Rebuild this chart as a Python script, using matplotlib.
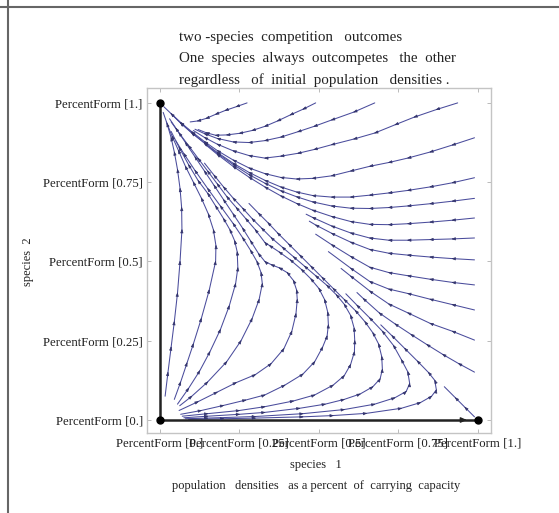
import numpy as np
import matplotlib
matplotlib.use("Agg")
import matplotlib.pyplot as plt
from matplotlib.lines import Line2D

plt.rcParams['font.family'] = ['Liberation Serif', 'DejaVu Serif']

# trajectories (species 1, species 2), ordered along the direction of motion
top_1 = [(0.274, 1.0), (0.24, 0.988), (0.205, 0.976), (0.175, 0.964), (0.145, 0.951),
         (0.118, 0.943), (0.095, 0.94)]
top_2 = [(0.49, 1.0), (0.45, 0.98), (0.41, 0.962), (0.37, 0.943), (0.33, 0.926),
         (0.29, 0.913), (0.25, 0.904), (0.21, 0.899), (0.175, 0.898), (0.145, 0.906),
         (0.12, 0.916)]
top_3 = [(0.676, 1.0), (0.61, 0.971), (0.54, 0.946), (0.485, 0.926), (0.434, 0.909),
         (0.38, 0.892), (0.33, 0.881), (0.28, 0.875), (0.23, 0.877), (0.18, 0.888),
         (0.14, 0.903), (0.11, 0.917)]
top_4 = [(0.937, 1.0), (0.87, 0.979), (0.8, 0.955), (0.74, 0.931), (0.676, 0.905),
         (0.61, 0.886), (0.54, 0.868), (0.485, 0.853), (0.434, 0.841), (0.38, 0.832),
         (0.33, 0.826), (0.28, 0.834), (0.23, 0.849), (0.18, 0.87), (0.14, 0.891),
         (0.105, 0.913)]

right_1 = [(0.99, 0.89), (0.92, 0.867), (0.85, 0.845), (0.78, 0.826), (0.72, 0.812),
           (0.66, 0.8), (0.6, 0.785), (0.54, 0.77), (0.48, 0.762), (0.43, 0.76),
           (0.38, 0.765), (0.33, 0.777), (0.28, 0.795), (0.23, 0.82), (0.18, 0.85),
           (0.14, 0.878), (0.1, 0.909), (0.065, 0.938), (0.035, 0.966)]
right_2 = [(0.99, 0.764), (0.92, 0.748), (0.85, 0.735), (0.78, 0.724), (0.72, 0.716),
           (0.66, 0.709), (0.6, 0.703), (0.54, 0.703), (0.48, 0.708), (0.43, 0.719),
           (0.38, 0.735), (0.33, 0.756), (0.28, 0.781), (0.23, 0.81), (0.18, 0.844),
           (0.14, 0.874), (0.1, 0.906), (0.065, 0.937), (0.035, 0.966)]
right_3 = [(0.99, 0.699), (0.92, 0.69), (0.85, 0.682), (0.78, 0.675), (0.72, 0.67),
           (0.66, 0.667), (0.6, 0.668), (0.54, 0.675), (0.48, 0.688), (0.43, 0.704),
           (0.38, 0.723), (0.33, 0.747), (0.28, 0.774), (0.23, 0.806), (0.18, 0.841),
           (0.14, 0.873), (0.1, 0.905), (0.065, 0.936), (0.035, 0.966), (0.012, 0.988)]
right_4 = [(0.99, 0.637), (0.92, 0.63), (0.85, 0.624), (0.78, 0.619), (0.72, 0.616),
           (0.66, 0.617), (0.6, 0.626), (0.54, 0.642), (0.48, 0.662), (0.43, 0.683),
           (0.38, 0.707), (0.33, 0.735), (0.28, 0.766), (0.23, 0.8), (0.18, 0.838),
           (0.14, 0.871)]
right_5 = [(0.99, 0.574), (0.92, 0.571), (0.85, 0.569), (0.78, 0.567), (0.72, 0.567),
           (0.66, 0.574), (0.6, 0.59), (0.54, 0.612), (0.48, 0.639), (0.46, 0.649)]
right_6 = [(0.99, 0.505), (0.92, 0.509), (0.85, 0.514), (0.78, 0.52), (0.72, 0.526),
           (0.66, 0.538), (0.6, 0.561), (0.54, 0.589), (0.49, 0.615), (0.47, 0.627)]
right_7 = [(0.99, 0.426), (0.92, 0.434), (0.85, 0.444), (0.78, 0.455), (0.72, 0.465),
           (0.66, 0.482), (0.6, 0.516), (0.54, 0.553), (0.49, 0.586)]
right_8 = [(0.99, 0.347), (0.92, 0.364), (0.85, 0.381), (0.78, 0.399), (0.72, 0.413),
           (0.66, 0.437), (0.6, 0.479), (0.53, 0.531)]
right_9 = [(0.99, 0.252), (0.92, 0.28), (0.85, 0.305), (0.78, 0.338), (0.72, 0.366),
           (0.66, 0.407), (0.6, 0.454), (0.57, 0.478)]
right_10 = [(0.99, 0.151), (0.94, 0.178), (0.89, 0.207), (0.84, 0.238), (0.79, 0.27),
            (0.74, 0.303), (0.69, 0.338), (0.64, 0.383), (0.62, 0.402)]

low_a = [(0.06, 0.03), (0.12, 0.058), (0.18, 0.088), (0.24, 0.118), (0.3, 0.143),
         (0.35, 0.178), (0.39, 0.225), (0.415, 0.28), (0.428, 0.335), (0.432, 0.38),
         (0.43, 0.41), (0.42, 0.44), (0.4, 0.465), (0.375, 0.48), (0.35, 0.49),
         (0.33, 0.5), (0.31, 0.525), (0.285, 0.565), (0.26, 0.605), (0.23, 0.65),
         (0.2, 0.695), (0.17, 0.74), (0.14, 0.785), (0.11, 0.83), (0.08, 0.875),
         (0.05, 0.92), (0.03, 0.95)]
low_b = [(0.065, 0.018), (0.13, 0.03), (0.2, 0.046), (0.27, 0.063), (0.33, 0.079),
         (0.393, 0.11), (0.45, 0.145), (0.487, 0.184), (0.512, 0.23), (0.526, 0.265),
         (0.53, 0.3), (0.528, 0.34), (0.518, 0.38), (0.5, 0.415), (0.475, 0.445),
         (0.445, 0.475), (0.41, 0.505), (0.375, 0.53), (0.345, 0.55), (0.33, 0.56),
         (0.3, 0.6), (0.27, 0.635), (0.24, 0.67), (0.21, 0.705), (0.18, 0.745),
         (0.15, 0.785), (0.12, 0.825), (0.09, 0.865), (0.06, 0.905), (0.035, 0.94)]
low_c = [(0.07, 0.012), (0.15, 0.02), (0.25, 0.03), (0.33, 0.042), (0.42, 0.06),
         (0.487, 0.079), (0.545, 0.11), (0.58, 0.14), (0.6, 0.175), (0.612, 0.215),
         (0.613, 0.25), (0.611, 0.29), (0.6, 0.33), (0.58, 0.365), (0.555, 0.395),
         (0.525, 0.425), (0.49, 0.455), (0.455, 0.485), (0.42, 0.515), (0.385, 0.545),
         (0.35, 0.575), (0.32, 0.605), (0.29, 0.635), (0.26, 0.668), (0.23, 0.7),
         (0.2, 0.735), (0.17, 0.772), (0.14, 0.81)]
low_d = [(0.075, 0.007), (0.15, 0.012), (0.25, 0.018), (0.33, 0.024), (0.44, 0.037),
         (0.52, 0.05), (0.58, 0.065), (0.63, 0.082), (0.67, 0.105), (0.693, 0.13),
         (0.7, 0.16), (0.698, 0.2), (0.688, 0.24), (0.67, 0.275), (0.645, 0.31),
         (0.615, 0.345), (0.58, 0.38), (0.545, 0.415), (0.51, 0.45), (0.475, 0.485),
         (0.44, 0.52), (0.405, 0.555), (0.37, 0.59), (0.34, 0.622), (0.31, 0.652),
         (0.28, 0.683)]
low_e = [(0.08, 0.004), (0.15, 0.006), (0.3, 0.011), (0.45, 0.02), (0.58, 0.033),
         (0.676, 0.05), (0.739, 0.07), (0.775, 0.09), (0.786, 0.115), (0.78, 0.152),
         (0.76, 0.19), (0.735, 0.235), (0.7, 0.28), (0.66, 0.322), (0.62, 0.362),
         (0.585, 0.398)]
low_f = [(0.09, 0.002), (0.2, 0.004), (0.3, 0.006), (0.45, 0.01), (0.545, 0.014),
         (0.65, 0.021), (0.76, 0.037), (0.82, 0.055), (0.855, 0.075), (0.87, 0.095),
         (0.865, 0.125), (0.845, 0.15), (0.81, 0.186), (0.77, 0.226), (0.73, 0.266),
         (0.695, 0.3)]

left_1 = [(0.016, 0.075), (0.025, 0.15), (0.035, 0.23), (0.045, 0.31), (0.055, 0.4),
          (0.063, 0.5), (0.069, 0.6), (0.068, 0.67), (0.063, 0.73), (0.055, 0.79),
          (0.045, 0.845), (0.035, 0.89), (0.022, 0.935), (0.01, 0.97)]
left_2 = [(0.045, 0.065), (0.065, 0.12), (0.085, 0.18), (0.105, 0.24), (0.13, 0.32),
          (0.155, 0.41), (0.175, 0.5), (0.176, 0.55), (0.168, 0.6), (0.152, 0.65),
          (0.13, 0.7), (0.105, 0.75), (0.08, 0.8), (0.058, 0.85), (0.038, 0.895),
          (0.02, 0.94)]
left_3 = [(0.055, 0.05), (0.09, 0.1), (0.125, 0.155), (0.157, 0.215), (0.19, 0.285),
          (0.218, 0.36), (0.238, 0.43), (0.245, 0.48), (0.243, 0.53), (0.235, 0.565),
          (0.22, 0.6), (0.2, 0.635), (0.175, 0.675), (0.15, 0.715), (0.12, 0.755),
          (0.09, 0.805), (0.06, 0.86), (0.035, 0.91)]
left_4 = [(0.062, 0.045), (0.1, 0.075), (0.15, 0.12), (0.21, 0.184), (0.255, 0.25),
          (0.29, 0.32), (0.312, 0.38), (0.322, 0.43), (0.318, 0.465), (0.305, 0.5),
          (0.285, 0.535), (0.26, 0.575), (0.23, 0.62), (0.19, 0.675), (0.15, 0.73),
          (0.11, 0.787), (0.075, 0.84), (0.05, 0.88)]

# leaving the saddle point at (1, 0)
saddle_out = [(0.99, 0.01), (0.96, 0.04), (0.93, 0.07), (0.895, 0.105)]

# equilibria and the two invariant axes
equilibria = [(0.0, 0.0), (0.0, 1.0), (1.0, 0.0)]
axis_species2 = [(0.0, 0.0), (0.0, 1.0)]
axis_species1 = [(0.0, 0.0), (1.0, 0.0)]

tick_values = [0.0, 0.25, 0.5, 0.75, 1.0]
tick_text = ["0.", "0.25", "0.5", "0.75", "1."]

title_lines = ["two -species  competition   outcomes",
               "One  species  always  outcompetes   the  other",
               "regardless   of  initial  population   densities ."]

curves = [top_1, top_2, top_3, top_4,
          right_1, right_2, right_3, right_4, right_5, right_6, right_7, right_8,
          right_9, right_10,
          low_a, low_b, low_c, low_d, low_e, low_f,
          left_1, left_2, left_3, left_4, saddle_out]

line_col = '#4a4c9c'
head_col = '#34356e'


def add_heads(ax, pts, color, size=3.8):
    p = np.array(pts)
    for i in range(1, len(p) - 1):
        d = p[i + 1] - p[i - 1]
        d = d / np.hypot(*d)
        ax.annotate("", xy=p[i] + 0.003 * d, xytext=p[i] - 0.003 * d,
                    arrowprops=dict(arrowstyle='-|>,head_length=0.6,head_width=0.22',
                                    color=color, lw=0.5, shrinkA=0, shrinkB=0,
                                    mutation_scale=size))


fig = plt.figure(figsize=(5.59, 5.13), dpi=100)
ax = fig.add_axes([147 / 559, 1 - 433 / 513, 344 / 559, 345 / 513])

for c in curves:
    xs, ys = zip(*c)
    ax.plot(xs, ys, color=line_col, lw=0.75, solid_capstyle='round')
    add_heads(ax, c, head_col)

for seg in (axis_species2, axis_species1):
    xs, ys = zip(*seg)
    ax.plot(xs, ys, color='#222222', lw=1.8, solid_capstyle='butt')
ax.annotate("", xy=(0.975, 0.0), xytext=(0.94, 0.0),
            arrowprops=dict(arrowstyle='-|>,head_length=0.5,head_width=0.22',
                            color='#222222', lw=1.0, mutation_scale=7))

ex, ey = zip(*equilibria)
ax.plot(ex, ey, 'o', color='black', ms=5, zorder=5)

ax.set_xlim(-0.041, 1.042)
ax.set_ylim(-0.041, 1.047)

ax.set_xticks(tick_values)
ax.set_yticks(tick_values)
ax.set_xticklabels(["PercentForm [%s]" % t for t in tick_text])
ax.set_yticklabels(["PercentForm [%s]" % t for t in tick_text])
ax.tick_params(direction='in', length=3, width=0.6, color='#b0b0b0', labelsize=9.2,
               pad=3, top=True, right=True, labelcolor='#222222')
for s in ax.spines.values():
    s.set_color('#c4c4c4')
    s.set_linewidth(1.0)

fig.text(28 / 559, 1 - 261.5 / 513, "species  2", rotation=90, ha='center', va='center',
         fontsize=9, color='#222222')
fig.text(316 / 559, 1 - 465 / 513, "species   1", ha='center', va='center',
         fontsize=9, color='#222222')
fig.text(316 / 559, 1 - 486 / 513,
         "population   densities   as a percent  of  carrying  capacity",
         ha='center', va='center', fontsize=9, color='#222222')

for yy, txt in zip([37, 59, 80], title_lines):
    fig.text(179 / 559, 1 - yy / 513, txt, ha='left', va='center', fontsize=10.8,
             color='#222222')

# page edge lines
fig.add_artist(Line2D([0, 1], [1 - 7 / 513, 1 - 7 / 513], color='#666666', lw=1.5))
fig.add_artist(Line2D([8 / 559, 8 / 559], [0, 1], color='#666666', lw=1.5))

fig.savefig("out.png", dpi=100)
